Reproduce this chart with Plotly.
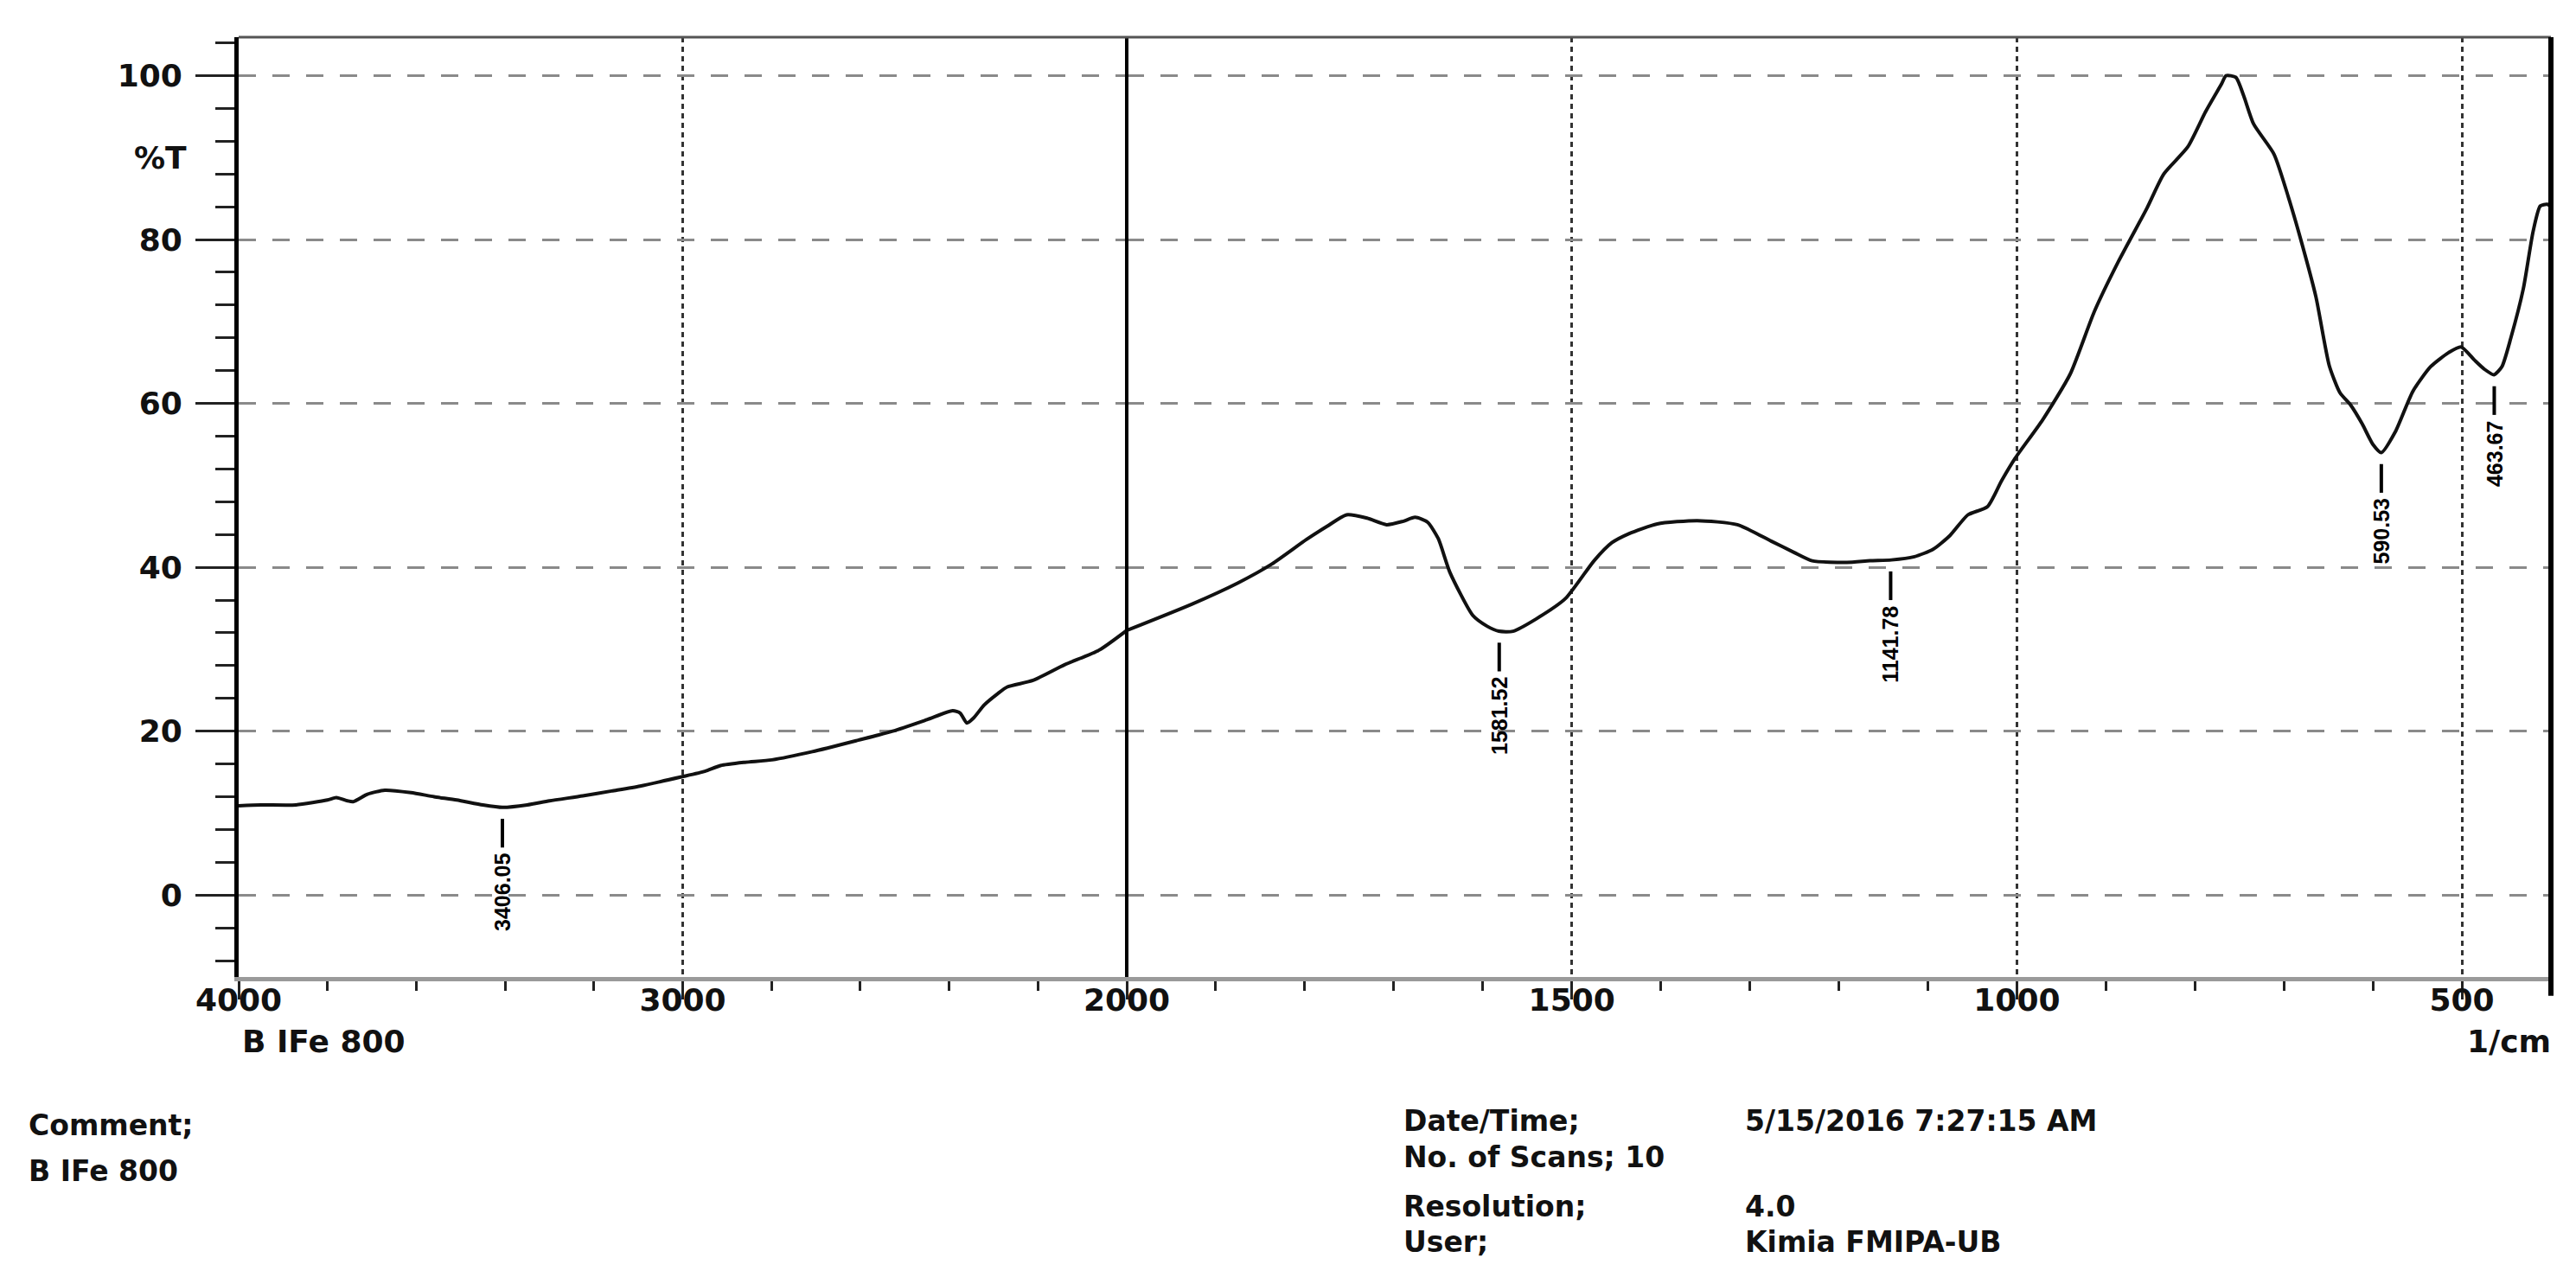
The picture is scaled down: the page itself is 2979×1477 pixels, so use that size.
import plotly.graph_objects as go

# ---------------- data ----------------
wavenumber = [
    4000, 3950, 3871, 3800, 3780, 3755, 3742, 3710, 3671, 3612, 3560, 3509,
    3450, 3406, 3350, 3300, 3225, 3160, 3096, 3005, 2950, 2915, 2860, 2799,
    2708, 2605, 2527, 2450, 2392, 2375, 2360, 2345, 2321, 2290, 2269, 2211,
    2140, 2062, 2000,
    1927, 1875, 1837, 1798, 1775, 1753, 1730, 1708, 1690, 1676, 1662, 1650,
    1637, 1611, 1595, 1582, 1566, 1540, 1507, 1475, 1455, 1436, 1404, 1359,
    1314, 1276, 1250, 1230, 1191, 1165, 1141, 1115, 1094, 1075, 1055, 1033,
    1017, 1002, 971, 940, 913, 886, 854, 835, 808, 788, 770, 765, 754, 745,
    734, 711, 695, 680, 664, 649, 637, 625, 612, 600, 590.5, 575, 555, 535,
    515, 501, 486, 475, 464, 455, 445, 431, 420, 412, 404, 400,
]
transmittance = [
    10.9, 11.0, 11.0, 11.6, 11.9, 11.5, 11.4, 12.3, 12.8, 12.5, 12.0, 11.6,
    11.0, 10.7, 11.0, 11.5, 12.1, 12.7, 13.3, 14.4, 15.1, 15.8, 16.2, 16.5,
    17.5, 18.9, 20.0, 21.4, 22.5, 22.2, 21.0, 21.6, 23.2, 24.6, 25.4, 26.2,
    28.1, 29.9, 32.3,
    35.5, 38.1, 40.4, 43.4, 45.0, 46.4, 46.0, 45.2, 45.6, 46.1, 45.5, 43.5,
    39.4, 34.1, 32.8, 32.2, 32.2, 33.7, 36.2, 40.8, 43.0, 44.1, 45.3, 45.7,
    45.2, 43.2, 41.8, 40.8, 40.6, 40.8, 40.9, 41.3, 42.2, 43.9, 46.4, 47.4,
    50.6, 53.3, 58.0, 63.6, 71.2, 77.3, 83.8, 88.0, 91.3, 95.6, 99.0, 100.0,
    99.8, 97.5, 94.1, 90.4, 85.2, 79.6, 73.0, 64.6, 61.3, 59.8, 57.5, 55.0,
    54.0, 56.5, 61.5, 64.5, 66.2, 66.9, 65.3, 64.2, 63.5, 64.5, 68.0, 74.0,
    81.0, 84.1, 84.3, 84.0,
]

peak_wn = [3406.05, 1581.52, 1141.78, 590.53, 463.67]
peak_T = [10.7, 32.2, 40.9, 54.0, 63.5]
peak_labels = ["3406.05", "1581.52", "1141.78", "590.53", "463.67"]

y_ticks = [0, 20, 40, 60, 80, 100]
x_ticks_left = [4000, 3000]
x_ticks_right = [2000, 1500, 1000, 500]

sample_name = "B IFe 800"
x_unit = "1/cm"
y_title = "%T"
info_left = ["Comment;", "B IFe 800"]
info_keys = ["Date/Time;", "No. of Scans; 10", "Resolution;", "User;"]
info_vals = ["5/15/2016 7:27:15 AM", "", "4.0", "Kimia FMIPA-UB"]

# ---------------- layout geometry ----------------
W, H = 2979, 1477
ML, MR, MT, MB = 268, 37, 35, 355
PW = W - ML - MR
PH = H - MT - MB
split = (1295 - ML) / PW


def px(xp):
    return (xp - ML) / PW


def py(yp):
    return (H - MB - yp) / PH


left_w = [w for w in wavenumber if w >= 2000]
left_t = [t for w, t in zip(wavenumber, transmittance) if w >= 2000]
right_w = [w for w in wavenumber if w <= 2000]
right_t = [t for w, t in zip(wavenumber, transmittance) if w <= 2000]

fig = go.Figure()
line_style = dict(color="#111111", width=4, shape="spline", smoothing=0.6)
fig.add_trace(go.Scatter(x=left_w, y=left_t, xaxis="x", yaxis="y", mode="lines",
                         line=line_style, hoverinfo="skip", showlegend=False))
fig.add_trace(go.Scatter(x=right_w, y=right_t, xaxis="x2", yaxis="y", mode="lines",
                         line=line_style, hoverinfo="skip", showlegend=False))

tick_font = dict(family="DejaVu Sans", size=36, color="#111111", weight="bold")
common_x = dict(
    ticks="outside", ticklen=21, tickwidth=3, tickcolor="#222222",
    ticklabelstandoff=-30,
    showline=True, linecolor="#9a9a9a", linewidth=5,
    showgrid=True, gridcolor="#333333", gridwidth=3, griddash="6px,5px",
    zeroline=False, tickfont=tick_font, anchor="y", fixedrange=True,
)

fig.update_layout(
    width=W, height=H,
    margin=dict(l=ML, r=MR, t=MT, b=MB),
    paper_bgcolor="white", plot_bgcolor="white",
    showlegend=False,
    xaxis=dict(domain=[0, split], range=[4000, 2000], tickmode="array",
               tickvals=x_ticks_left, ticktext=[str(v) for v in x_ticks_left],
               minor=dict(dtick=200, tick0=0, ticks="outside", ticklen=11,
                          tickwidth=3, tickcolor="#222222", showgrid=False),
               **common_x),
    xaxis2=dict(domain=[split, 1], range=[2000, 400], tickmode="array",
                tickvals=x_ticks_right, ticktext=[str(v) for v in x_ticks_right],
                minor=dict(dtick=100, tick0=0, ticks="outside", ticklen=11,
                           tickwidth=3, tickcolor="#222222", showgrid=False),
                **common_x),
    yaxis=dict(range=[-10, 104.7], tickmode="array", tickvals=y_ticks,
               ticktext=[str(v) for v in y_ticks], anchor="x",
               ticks="outside", ticklen=45, tickwidth=3, tickcolor="#222222",
               ticklabelstandoff=8,
               showline=True, linecolor="#000000", linewidth=5,
               showgrid=True, gridcolor="#8a8a8a", gridwidth=3, griddash="20px,19px",
               zeroline=False, tickfont=tick_font, fixedrange=True,
               minor=dict(dtick=4, tick0=0, ticks="outside", ticklen=22,
                          tickwidth=3, tickcolor="#222222", showgrid=False)),
)

shapes = [
    # solid separator between the two wavenumber scales (at 2000 1/cm)
    dict(type="line", xref="paper", yref="paper", x0=split, x1=split, y0=0, y1=1,
         line=dict(color="#000000", width=4)),
    dict(type="line", xref="paper", yref="paper", x0=0, x1=1, y0=1, y1=1,
         line=dict(color="#555555", width=3)),
    dict(type="line", xref="paper", yref="paper", x0=1, x1=1, y0=-0.02, y1=1,
         line=dict(color="#000000", width=6)),
]
annotations = []
for wn, t, lab in zip(peak_wn, peak_T, peak_labels):
    xr = "x" if wn >= 2000 else "x2"
    shapes.append(dict(type="line", xref=xr, yref="y", x0=wn, x1=wn,
                       y0=t - 1.4, y1=t - 4.9, line=dict(color="#000000", width=4)))
    annotations.append(dict(x=wn, y=t - 5.4, xref=xr, yref="y", text=lab,
                            textangle=-90, showarrow=False, xanchor="center",
                            yanchor="top",
                            font=dict(family="Liberation Sans", size=25,
                                      color="#000000", weight="bold")))

label_font = dict(family="DejaVu Sans", size=36, color="#111111", weight="bold")
info_font = dict(family="DejaVu Sans", size=33, color="#111111", weight="bold")

annotations.append(dict(x=0, xref="paper", xshift=-58, xanchor="right",
                        y=90, yref="y", yanchor="middle", text=y_title,
                        showarrow=False, font=label_font))
annotations.append(dict(x=px(270), y=py(1196), xref="paper", yref="paper",
                        xanchor="left", yanchor="middle", text=sample_name,
                        showarrow=False, font=label_font))
annotations.append(dict(x=px(2944), y=py(1196), xref="paper", yref="paper",
                        xanchor="right", yanchor="middle", text=x_unit,
                        showarrow=False, font=label_font))

left_rows_y = [1293, 1346]
for txt, yy in zip(info_left, left_rows_y):
    annotations.append(dict(x=px(23), y=py(yy), xref="paper", yref="paper",
                            xanchor="left", yanchor="middle", text=txt,
                            showarrow=False, font=info_font))

right_rows_y = [1288, 1330, 1387, 1428]
for key, val, yy in zip(info_keys, info_vals, right_rows_y):
    annotations.append(dict(x=px(1613), y=py(yy), xref="paper", yref="paper",
                            xanchor="left", yanchor="middle", text=key,
                            showarrow=False, font=info_font))
    if val:
        annotations.append(dict(x=px(2008), y=py(yy), xref="paper", yref="paper",
                                xanchor="left", yanchor="middle", text=val,
                                showarrow=False, font=info_font))

fig.update_layout(shapes=shapes, annotations=annotations)

fig.write_html("out.html")
